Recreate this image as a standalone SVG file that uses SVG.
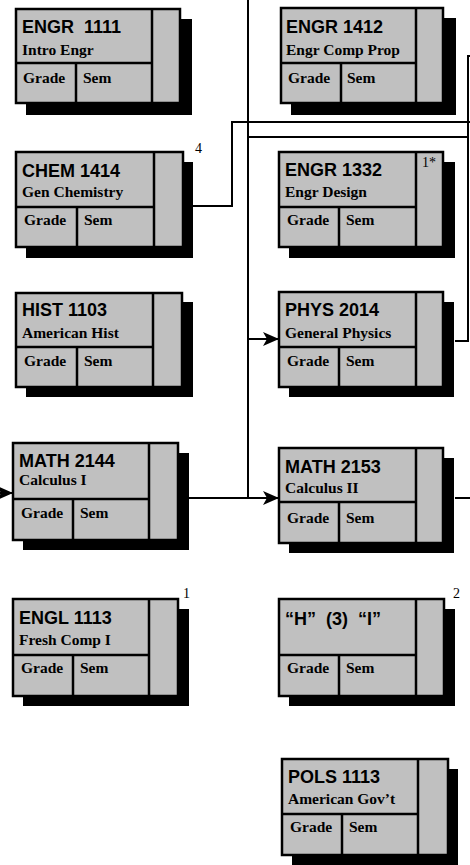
<svg xmlns="http://www.w3.org/2000/svg" width="470" height="865" viewBox="0 0 470 865">
<style>
.bg{fill:#fff}
.sh{fill:#000}
.bx{fill:#c0c0c0;stroke:#000;stroke-width:2.5}
.dv{stroke:#000;stroke-width:2.5;fill:none}
.t{font-family:"Liberation Sans",Arial,sans-serif;font-weight:bold;font-size:18px;fill:#000;white-space:pre}
.s{font-family:"Liberation Serif","Times New Roman",serif;font-weight:bold;font-size:15.5px;fill:#000}
.n{font-family:"Liberation Serif","Times New Roman",serif;font-size:14px;fill:#000}
.c{stroke:#000;stroke-width:2;fill:none}
</style>
<defs>
<marker id="ah" markerUnits="userSpaceOnUse" viewBox="0 0 16 14" refX="16" refY="7" markerWidth="16" markerHeight="14" orient="auto">
<path d="M0,0 L16,7 L0,14 L4,7 z" fill="#000"/>
</marker>
</defs>
<rect class="bg" width="470" height="865"/>

<g id="connectors">
<polyline class="c" points="193,206 232,206 232,122 470,122"/>
<line class="c" x1="248" y1="0" x2="248" y2="498"/>
<line class="c" x1="248" y1="137" x2="468" y2="137"/>
<polyline class="c" points="470,56 468,56 468,341 455,341"/>
<line class="c" x1="248" y1="339" x2="279" y2="339" marker-end="url(#ah)"/>
<line class="c" x1="189" y1="498" x2="279" y2="498" marker-end="url(#ah)"/>
<line class="c" x1="0" y1="493" x2="13" y2="493" marker-end="url(#ah)"/>
<line class="c" x1="455" y1="498" x2="470" y2="498"/>
</g>

<g id="engr1111">
<rect class="sh" x="26" y="19" width="166" height="96"/>
<rect class="bx" x="16" y="9" width="164" height="94"/>
<path class="dv" d="M152,9 V103 M16,63 H152 M76,63 V103"/>
<text class="t" x="22" y="33" xml:space="preserve">ENGR  1111</text>
<text class="s" x="22" y="55">Intro Engr</text>
<text class="s" x="23" y="83">Grade</text>
<text class="s" x="83" y="83">Sem</text>
</g>

<g id="chem1414">
<rect class="sh" x="26" y="162" width="167" height="96"/>
<rect class="bx" x="16" y="152" width="167" height="95"/>
<path class="dv" d="M154,152 V247 M16,207 H154 M77,207 V247"/>
<text class="t" x="22" y="177">CHEM 1414</text>
<text class="s" x="22" y="197">Gen Chemistry</text>
<text class="s" x="24" y="225">Grade</text>
<text class="s" x="84" y="225">Sem</text>
<text class="n" x="195" y="153">4</text>
</g>

<g id="hist1103">
<rect class="sh" x="26" y="302" width="167" height="95"/>
<rect class="bx" x="16" y="293" width="166" height="94"/>
<path class="dv" d="M153,293 V387 M16,347 H153 M77,347 V387"/>
<text class="t" x="22" y="316">HIST 1103</text>
<text class="s" x="22" y="338">American Hist</text>
<text class="s" x="24" y="366">Grade</text>
<text class="s" x="84" y="366">Sem</text>
</g>

<g id="math2144">
<rect class="sh" x="23" y="453" width="166" height="97"/>
<rect class="bx" x="13" y="443" width="165" height="97"/>
<path class="dv" d="M149,443 V540 M13,499 H149 M73,499 V540"/>
<text class="t" x="19" y="467">MATH 2144</text>
<text class="s" x="19" y="485">Calculus I</text>
<text class="s" x="21" y="518">Grade</text>
<text class="s" x="80" y="518">Sem</text>
</g>

<g id="engl1113">
<rect class="sh" x="23" y="609" width="166" height="97"/>
<rect class="bx" x="13" y="599" width="165" height="97"/>
<path class="dv" d="M149,599 V696 M13,655 H149 M73,655 V696"/>
<text class="t" x="19" y="624">ENGL 1113</text>
<text class="s" x="19" y="645">Fresh Comp I</text>
<text class="s" x="21" y="673">Grade</text>
<text class="s" x="80" y="673">Sem</text>
<text class="n" x="183" y="598">1</text>
</g>

<g id="engr1412">
<rect class="sh" x="291" y="18" width="165" height="97"/>
<rect class="bx" x="281" y="8" width="162" height="95"/>
<path class="dv" d="M416,8 V103 M281,63 H416 M341,63 V103"/>
<text class="t" x="286" y="33">ENGR 1412</text>
<text class="s" x="286" y="55">Engr Comp Prop</text>
<text class="s" x="288" y="83">Grade</text>
<text class="s" x="347" y="83">Sem</text>
</g>

<g id="engr1332">
<rect class="sh" x="289" y="162" width="166" height="96"/>
<rect class="bx" x="279" y="152" width="164" height="95"/>
<path class="dv" d="M416,152 V247 M279,207 H416 M339,207 V247"/>
<text class="t" x="285" y="176">ENGR 1332</text>
<text class="s" x="285" y="197">Engr Design</text>
<text class="s" x="287" y="225">Grade</text>
<text class="s" x="346" y="225">Sem</text>
<text class="n" x="422" y="167">1*</text>
</g>

<g id="phys2014">
<rect class="sh" x="289" y="302" width="165" height="95"/>
<rect class="bx" x="279" y="292" width="164" height="95"/>
<path class="dv" d="M416,292 V387 M279,347 H416 M339,347 V387"/>
<text class="t" x="285" y="316">PHYS 2014</text>
<text class="s" x="285" y="338">General Physics</text>
<text class="s" x="287" y="366">Grade</text>
<text class="s" x="346" y="366">Sem</text>
</g>

<g id="math2153">
<rect class="sh" x="289" y="458" width="165" height="95"/>
<rect class="bx" x="279" y="448" width="164" height="95"/>
<path class="dv" d="M416,448 V543 M279,502 H416 M339,502 V543"/>
<text class="t" x="285" y="473">MATH 2153</text>
<text class="s" x="285" y="493">Calculus II</text>
<text class="s" x="287" y="523">Grade</text>
<text class="s" x="346" y="523">Sem</text>
</g>

<g id="h3i">
<rect class="sh" x="289" y="609" width="166" height="97"/>
<rect class="bx" x="279" y="599" width="165" height="97"/>
<path class="dv" d="M416,599 V696 M279,655 H416 M339,655 V696"/>
<text class="t" x="285" y="625" xml:space="preserve">“H”  (3)  “I”</text>
<text class="s" x="287" y="673">Grade</text>
<text class="s" x="346" y="673">Sem</text>
<text class="n" x="453" y="598">2</text>
</g>

<g id="pols1113">
<rect class="sh" x="292" y="769" width="166" height="96"/>
<rect class="bx" x="282" y="759" width="166" height="96"/>
<path class="dv" d="M418,759 V855 M282,814 H418 M342,814 V855"/>
<text class="t" x="288" y="783">POLS 1113</text>
<text class="s" x="288" y="804">American Gov’t</text>
<text class="s" x="290" y="832">Grade</text>
<text class="s" x="349" y="832">Sem</text>
</g>
</svg>
